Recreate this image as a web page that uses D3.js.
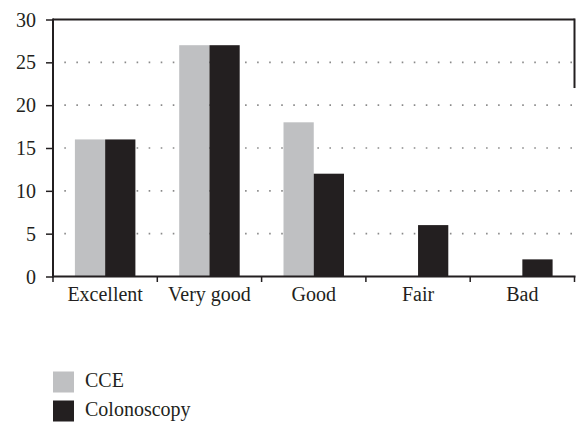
<!DOCTYPE html>
<html>
<head>
<meta charset="utf-8">
<script src="https://cdn.jsdelivr.net/npm/d3@7"></script>
<style>
  body { margin: 0; background: #fff; }
</style>
</head>
<body>
<script>
// chart data
var categories = ["Excellent", "Very good", "Good", "Fair", "Bad"];
var seriesNames = ["CCE", "Colonoscopy"];
var cceValues = [16, 27, 18, 0, 0];
var colonoscopyValues = [16, 27, 12, 6, 2];
var yTicks = [0, 5, 10, 15, 20, 25, 30];

var colors = ["#bfc0c2", "#231f20"];
var fontFamily = "\"Liberation Serif\", \"Times New Roman\", serif";
var fontSize = "20px";

var svgWidth = 576;
var svgHeight = 422;
var margin = { top: 19.5, right: 1.5, bottom: 145.5, left: 53 };
var width = svgWidth - margin.left - margin.right;
var height = svgHeight - margin.top - margin.bottom;

var svg = d3.select("body").append("svg")
  .attr("width", svgWidth)
  .attr("height", svgHeight);

var chartGroup = svg.append("g")
  .attr("transform", `translate(${margin.left}, ${margin.top})`);

var x0 = d3.scaleBand().domain(categories).range([0, width]).paddingInner(0.42).paddingOuter(0.21);
var x1 = d3.scaleBand().domain(seriesNames).range([0, x0.bandwidth()]);
var y = d3.scaleLinear().domain([0, 30]).range([height, 0]);

// bands for ticks (no padding)
var xTickScale = d3.scaleBand().domain(categories).range([0, width]);

// dotted gridlines
chartGroup.append("g")
  .selectAll("line")
  .data(yTicks.filter(d => d > 0 && d < 30))
  .enter()
  .append("line")
  .attr("x1", 11.3)
  .attr("x2", width)
  .attr("y1", d => y(d))
  .attr("y2", d => y(d))
  .attr("stroke", "#8a8a8a")
  .attr("stroke-width", 1.6)
  .attr("stroke-dasharray", "1.6,10.45");

// bars
var rows = categories.map((c, i) => ({ cat: c, vals: [cceValues[i], colonoscopyValues[i]] }));

var groups = chartGroup.selectAll(".grp")
  .data(rows)
  .enter()
  .append("g")
  .attr("transform", d => `translate(${x0(d.cat)},0)`);

groups.selectAll("rect")
  .data(d => d.vals.map((v, j) => ({ name: seriesNames[j], value: v, j: j })))
  .enter()
  .append("rect")
  .attr("x", d => x1(d.name))
  .attr("y", d => y(d.value))
  .attr("width", x1.bandwidth())
  .attr("height", d => height - y(d.value))
  .attr("fill", d => colors[d.j]);

// top frame line and short right edge
chartGroup.append("line")
  .attr("x1", 0).attr("x2", width)
  .attr("y1", y(30)).attr("y2", y(30))
  .attr("stroke", "#231f20").attr("stroke-width", 2);
chartGroup.append("line")
  .attr("x1", width).attr("x2", width)
  .attr("y1", y(30) - 1).attr("y2", y(22))
  .attr("stroke", "#231f20").attr("stroke-width", 2);

// y axis
var leftAxis = d3.axisLeft(y).tickValues(yTicks).tickSize(7).tickPadding(10).tickFormat(d3.format("d"));
var yAxis = chartGroup.append("g").call(leftAxis);
yAxis.select(".domain").remove();
yAxis.selectAll(".tick line").attr("stroke", "#231f20").attr("stroke-width", 1.5);
yAxis.selectAll(".tick text")
  .attr("dy", "0.33em")
  .attr("fill", "#231f20")
  .style("font-family", fontFamily)
  .style("font-size", fontSize);
chartGroup.append("line")
  .attr("x1", 0).attr("x2", 0)
  .attr("y1", y(30) - 1).attr("y2", height + 1)
  .attr("stroke", "#231f20").attr("stroke-width", 2);

// x axis
var xAxisG = chartGroup.append("g").attr("transform", `translate(0, ${height})`);
xAxisG.append("line")
  .attr("x1", -1).attr("x2", width + 1)
  .attr("stroke", "#231f20").attr("stroke-width", 2);
xAxisG.selectAll(".xt")
  .data(categories.concat(["end"]))
  .enter()
  .append("line")
  .attr("x1", (d, i) => i < categories.length ? xTickScale(d) : width)
  .attr("x2", (d, i) => i < categories.length ? xTickScale(d) : width)
  .attr("y1", 0).attr("y2", 5.5)
  .attr("stroke", "#231f20").attr("stroke-width", 1.5);
xAxisG.selectAll(".xl")
  .data(categories)
  .enter()
  .append("text")
  .attr("x", d => x0(d) + x0.bandwidth() / 2)
  .attr("y", 24.5)
  .attr("text-anchor", "middle")
  .attr("fill", "#231f20")
  .style("font-family", fontFamily)
  .style("font-size", fontSize)
  .text(d => d);

// legend
var legend = svg.append("g").attr("transform", "translate(53, 371.5)");
seriesNames.forEach(function(name, i) {
  var row = legend.append("g").attr("transform", `translate(0, ${i * 29})`);
  row.append("rect")
    .attr("width", 21).attr("height", 21)
    .attr("fill", colors[i]);
  row.append("text")
    .attr("x", 32).attr("y", 15.5)
    .attr("fill", "#231f20")
    .style("font-family", fontFamily)
    .style("font-size", fontSize)
    .text(name);
});
</script>
</body>
</html>
